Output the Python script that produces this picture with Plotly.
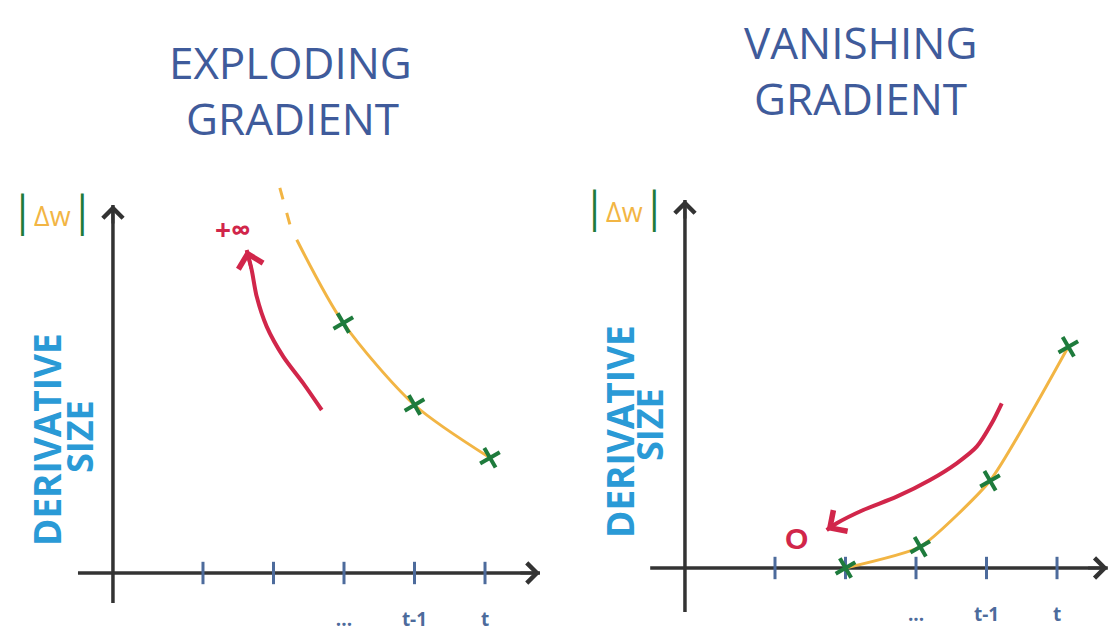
import plotly.graph_objects as go

# ---------------- data ----------------
TIME_TICKS = [1, 2, 3, 4, 5]
TICK_LABELS = ["", "", "...", "t-1", "t"]

# exploding gradient (left)
EXPLODE_X = [2.33, 2.99, 4.0, 5.07]
EXPLODE_Y = [8.33, 6.25, 4.2, 2.88]
EXPLODE_MARK_X = [2.99, 4.0, 5.07]
EXPLODE_MARK_Y = [6.25, 4.2, 2.88]
EXPLODE_DASH_X = [2.09, 2.25]
EXPLODE_DASH_Y = [9.63, 8.6]
EXPLODE_ARROW_X = [2.684, 2.423, 2.139, 1.904, 1.762, 1.691, 1.62]
EXPLODE_ARROW_Y = [4.075, 4.74, 5.41, 6.16, 6.91, 7.575, 8.075]

# vanishing gradient (right)
VANISH_X = [2.0, 3.06, 4.05, 5.16]
VANISH_Y = [0.0, 0.53, 2.18, 5.53]
VANISH_ARROW_X = [4.216, 4.074, 3.861, 3.577, 3.199, 2.726, 2.252, 1.875, 1.733]
VANISH_ARROW_Y = [4.118, 3.618, 3.033, 2.618, 2.2, 1.783, 1.45, 1.118, 0.95]

TITLES = [["EXPLODING", "GRADIENT"], ["VANISHING", "GRADIENT"]]

# ---------------- styles ----------------
AXIS_C = "#333333"
TICK_C = "#4d6b9c"
ORANGE = "#f2b544"
GREEN = "#1e7b3c"
RED = "#d1264a"
TITLE_C = "#3f5b9b"
YLAB_C = "#2a9ad6"
FONT = "Open Sans"

fig = go.Figure()
ann = []


def chevron(xs, ys, xa, ya, color, width, size):
    """open arrowhead at the last point of a polyline, pointing along it"""
    ann.append(dict(x=xs[-1], y=ys[-1], ax=xs[-2], ay=ys[-2], xref=xa, yref=ya,
                    axref=xa, ayref=ya, text="", showarrow=True, arrowhead=4,
                    arrowcolor=color, arrowwidth=width, arrowsize=size, standoff=0))


panels = [
    dict(xa="x", ya="y", curve=(EXPLODE_X, EXPLODE_Y), marks=(EXPLODE_MARK_X, EXPLODE_MARK_Y),
         arrow=(EXPLODE_ARROW_X, EXPLODE_ARROW_Y), ytop=9.2, ybot=-0.75, xl=-0.773, xr=5.78,
         smooth=0.8),
    dict(xa="x2", ya="y2", curve=(VANISH_X, VANISH_Y), marks=(VANISH_X, VANISH_Y),
         arrow=(VANISH_ARROW_X, VANISH_ARROW_Y), ytop=9.2, ybot=-1.1, xl=-0.77, xr=5.72,
         smooth=0.5),
]
AXIS_POS = -0.277

for p in panels:
    xa, ya = p["xa"], p["ya"]
    # y axis line
    fig.add_trace(go.Scatter(x=[AXIS_POS, AXIS_POS], y=[p["ybot"], p["ytop"]], xaxis=xa, yaxis=ya,
                             mode="lines", line=dict(color=AXIS_C, width=3.5),
                             hoverinfo="skip", showlegend=False))
    chevron([AXIS_POS, AXIS_POS], [p["ytop"] - 0.5, p["ytop"]], xa, ya, AXIS_C, 3, 1.3)
    # x axis line
    fig.add_trace(go.Scatter(x=[p["xl"], p["xr"]], y=[0, 0], xaxis=xa, yaxis=ya, mode="lines",
                             line=dict(color=AXIS_C, width=3.5),
                             hoverinfo="skip", showlegend=False))
    chevron([p["xr"] - 0.3, p["xr"]], [0, 0], xa, ya, AXIS_C, 3, 1.3)
    # ticks
    fig.add_trace(go.Scatter(x=TIME_TICKS, y=[0] * len(TIME_TICKS), xaxis=xa, yaxis=ya,
                             mode="markers",
                             marker=dict(symbol="line-ns", size=16, color=TICK_C,
                                         line=dict(color=TICK_C, width=3)),
                             hoverinfo="skip", showlegend=False))
    # tick labels
    fig.add_trace(go.Scatter(x=TIME_TICKS, y=[-1.2] * len(TIME_TICKS), xaxis=xa, yaxis=ya,
                             mode="text", text=[f"<b>{t}</b>" if t else "" for t in TICK_LABELS],
                             cliponaxis=False,
                             textfont=dict(family=FONT, size=19, color=TICK_C),
                             hoverinfo="skip", showlegend=False))
    # orange curve
    cx, cy = p["curve"]
    fig.add_trace(go.Scatter(x=cx, y=cy, xaxis=xa, yaxis=ya, mode="lines",
                             line=dict(color=ORANGE, width=3, shape="spline", smoothing=p["smooth"]),
                             hoverinfo="skip", showlegend=False))
    # red arrow
    ax_, ay_ = p["arrow"]
    fig.add_trace(go.Scatter(x=ax_, y=ay_, xaxis=xa, yaxis=ya, mode="lines",
                             line=dict(color=RED, width=4, shape="spline", smoothing=0.8),
                             hoverinfo="skip", showlegend=False))
    chevron(ax_, ay_, xa, ya, RED, 3.5, 1.4)
    # green crosses
    mx, my = p["marks"]
    fig.add_trace(go.Scatter(x=mx, y=my, xaxis=xa, yaxis=ya, mode="markers",
                             marker=dict(symbol="x-thin", size=16, angle=15, color=GREEN,
                                         line=dict(color=GREEN, width=4)),
                             hoverinfo="skip", showlegend=False))

# dashed continuation (exploding)
fig.add_trace(go.Scatter(x=EXPLODE_DASH_X, y=EXPLODE_DASH_Y, xaxis="x", yaxis="y", mode="lines",
                         line=dict(color=ORANGE, width=3, dash="12px,14px"),
                         hoverinfo="skip", showlegend=False))

W, H = 1113, 634


def px(x, y):
    return x / W, 1 - y / H


def label(x, y, text, size, color, angle=0):
    xp, yp = px(x, y)
    ann.append(dict(x=xp, y=yp, xref="paper", yref="paper", text=text, showarrow=False,
                    xanchor="center", yanchor="middle", textangle=angle,
                    font=dict(family=FONT, size=size, color=color)))


# titles
title_pos = [[(290, 62), (292, 118)], [(860, 42), (860, 98)]]
for lines, poss in zip(TITLES, title_pos):
    for txt, (x, y) in zip(lines, poss):
        label(x, y, txt, 44, TITLE_C)

# |Δw| labels
for (x, y) in [(52, 210), (624, 205)]:
    label(x, y, (f"<span style='color:{GREEN};font-size:42px'>|</span>"
                 f"<span style='color:{ORANGE};font-size:27px'>Δw</span>"
                 f"<span style='color:{GREEN};font-size:42px'>|</span>"), 27, ORANGE)

# y labels
for (x1, y1, x2, y2) in [(46, 440, 79, 437), (619, 432, 649, 425)]:
    label(x1, y1, "<b>DERIVATIVE</b>", 37, YLAB_C, -90)
    label(x2, y2, "<b>SIZE</b>", 36, YLAB_C, -90)

# +∞ and 0
ann.append(dict(x=1.42, y=8.6, xref="x", yref="y", text="<b>+∞</b>", showarrow=False,
                xanchor="center", yanchor="middle",
                font=dict(family=FONT, size=28, color=RED)))
ann.append(dict(x=1.31, y=0.75, xref="x2", yref="y2", text="<b>O</b>", showarrow=False,
                xanchor="center", yanchor="middle",
                font=dict(family="Liberation Sans", size=30, color=RED)))

ax_common = dict(visible=False, showgrid=False, zeroline=False, fixedrange=True)
fig.update_layout(
    width=W, height=H, autosize=False,
    margin=dict(l=0, r=0, t=0, b=0),
    paper_bgcolor="white", plot_bgcolor="white",
    xaxis=dict(domain=[0, 0.5], range=[-1.879, 6.014], anchor="y", **ax_common),
    yaxis=dict(domain=[0, 1], range=[-1.525, 14.325], anchor="x", **ax_common),
    xaxis2=dict(domain=[0.5, 1], range=[-2.099, 5.794], anchor="y2", **ax_common),
    yaxis2=dict(domain=[0, 1], range=[-1.65, 14.2], anchor="x2", **ax_common),
    annotations=ann,
    showlegend=False,
)

fig.write_html("out.html", config={"displayModeBar": False},
               post_script="document.body.style.margin='0';")
